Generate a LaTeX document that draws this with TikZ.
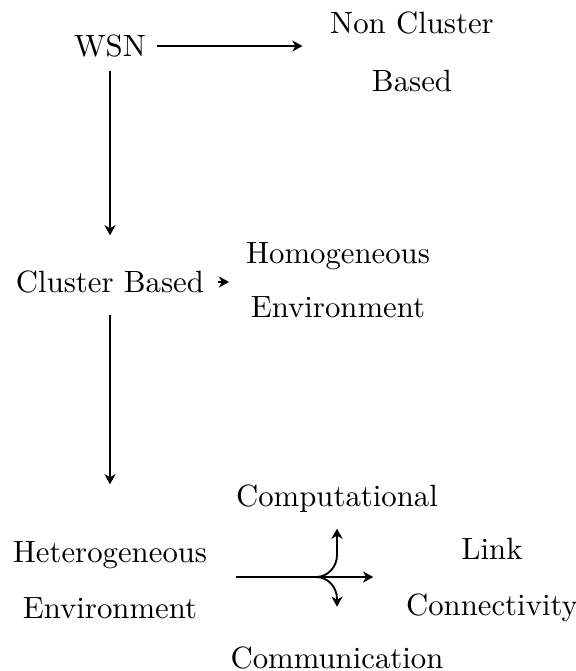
\documentclass[tikz,border=0pt]{standalone}
\usetikzlibrary{arrows.meta,calc}
\begin{document}
\begin{tikzpicture}[x=0.325pt,y=-0.325pt,
  lbl/.style={align=center,inner sep=3.33pt},
  arr/.style={semithick,-{Stealth[length=3.3pt,width=3.6pt,inset=1pt]}}]
\useasboundingbox (0,0) rectangle (575,671);
\node[lbl] (wsn) at (110,46) {WSN};
\node[lbl] (ncb) at (412,52) {Non Cluster\\[6.8pt]Based};
\node[lbl] (cb) at (110,282) {Cluster Based};
\node[lbl] (homo) at (338,280) {Homogeneous\\[5.6pt]Environment};
\node[lbl] (het) at (110,580) {Heterogeneous\\[6.2pt]Environment};
\node[lbl] (link) at (492,580) {Link\\[6.2pt]Connectivity};
\node[lbl] (comp) at (337,499) {Computational};
\node[lbl] (comm) at (337,658) {Communication};
\coordinate (split) at (316,577);
\draw[arr] (wsn.east) -- (wsn.east -| ncb.west) [shorten >=5.5pt];
\draw[arr] (wsn.south) -- (cb.north) [shorten <=1pt, shorten >=8pt];
\draw[arr] (cb.east) -- (cb.east -| homo.west) [shorten <=1pt, shorten >=2pt];
\draw[arr] (cb.south) -- (het.north) [shorten <=3.5pt, shorten >=15pt];
\draw[thick,-{Stealth[length=3.3pt,width=3.6pt,inset=1pt]}] ($(het.east)+(18,-3)$) -- ($(link.west)+(-22,-3)$);
\draw[arr] (split) to[out=0,in=-90] ($(split -| comp.south)+(0,-22)$) -- (comp.south) [shorten >=1.6pt];
\draw[arr] (split) to[out=0,in=90] ($(split -| comm.north)+(0,22)$) -- (comm.north) [shorten >=9.5pt];
\end{tikzpicture}
\end{document}
